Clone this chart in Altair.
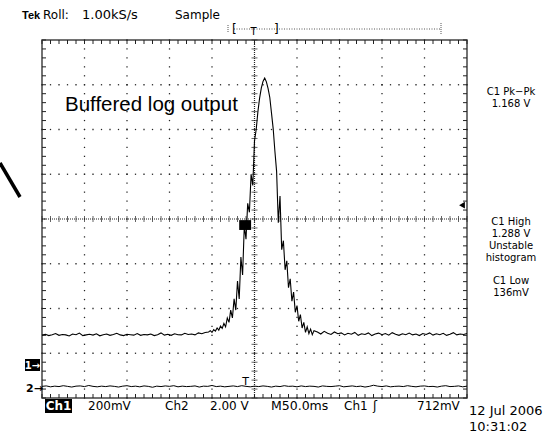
import altair as alt
import pandas as pd
import numpy as np

# Channel 1 (buffered log output): time in ms, level in mV
t1_left = [0, 4, 8, 12, 16, 20, 24, 28, 32, 36, 40, 44, 48, 52, 56, 60, 64, 68, 72, 76,
           80, 84, 88, 92, 96, 100, 104, 108, 112, 116, 120, 124, 128, 132, 136, 140, 144,
           148, 152, 156, 160, 164, 168, 172, 176, 180, 184, 188, 192]
v1_left = [131, 135, 129, 133, 138, 130, 134, 132, 127, 136, 133, 140, 129, 132, 135, 131,
           137, 128, 133, 136, 130, 134, 139, 132, 129, 135, 133, 131, 138, 130, 134, 132,
           136, 129, 133, 141, 131, 135, 130, 137, 133, 132, 139, 134, 136, 132, 141, 137, 143]
t1_mid = [196, 198, 200, 202, 204, 206, 208, 210, 212, 214, 216, 218, 220, 222, 224, 226,
          228, 230, 232, 234, 236, 238, 240, 242, 244, 246, 248, 250, 252, 254, 256, 258,
          260, 262, 264, 266, 268, 270, 272, 274, 276, 278, 280, 282, 284, 286, 288, 290,
          292, 294, 296, 298, 300, 302, 304, 306, 308, 310, 312, 314, 316, 318, 320]
v1_mid = [145, 151, 143, 156, 149, 163, 153, 171, 161, 183, 168, 208, 188, 243, 208, 293,
          243, 373, 293, 480, 400, 620, 560, 720, 680, 850, 800, 1000, 1050, 1130, 1190, 1235,
          1265, 1280, 1263, 1233, 1193, 1123, 1053, 953, 863, 633, 753, 513, 553, 423, 463, 343,
          383, 283, 323, 233, 263, 193, 223, 163, 188, 143, 168, 138, 158, 133, 151]
t1_right = [324, 328, 332, 336, 340, 344, 348, 352, 356, 360, 364, 368, 372, 376, 380, 384,
            388, 392, 396, 400, 404, 408, 412, 416, 420, 424, 428, 432, 436, 440, 444, 448,
            452, 456, 460, 464, 468, 472, 476, 480, 484, 488, 492, 496, 500]
v1_right = [145, 136, 148, 139, 134, 145, 137, 141, 132, 139, 135, 143, 130, 137, 134, 141,
            129, 136, 140, 133, 138, 131, 142, 135, 130, 137, 133, 140, 132, 136, 129, 138,
            134, 141, 131, 137, 133, 139, 130, 135, 142, 132, 136, 134, 138]

# Channel 2: time in ms, level in V (2.00 V/div)
t2 = [0, 5, 10, 15, 20, 25, 30, 35, 40, 45, 50, 55, 60, 65, 70, 75, 80, 85, 90, 95,
      100, 105, 110, 115, 120, 125, 130, 135, 140, 145, 150, 155, 160, 165, 170, 175, 180,
      185, 190, 195, 200, 205, 210, 215, 220, 225, 230, 235, 240, 245, 250, 255, 260, 265,
      270, 275, 280, 285, 290, 295, 300, 305, 310, 315, 320, 325, 330, 335, 340, 345, 350,
      355, 360, 365, 370, 375, 380, 385, 390, 395, 400, 405, 410, 415, 420, 425, 430, 435,
      440, 445, 450, 455, 460, 465, 470, 475, 480, 485, 490, 495, 500]
v2 = [-0.06, -0.04, -0.08, -0.05, -0.07, -0.03, -0.06, -0.09, -0.05, -0.04,
      -0.07, -0.02, -0.06, -0.08, -0.05, -0.07, -0.04, -0.06, -0.09, -0.05,
      -0.03, -0.07, -0.05, -0.08, -0.04, -0.06, -0.10, -0.05, -0.07, -0.04,
      -0.06, -0.03, -0.08, -0.05, -0.07, -0.06, -0.04, -0.09, -0.05, -0.06,
      -0.02, -0.07, -0.05, -0.08, -0.06, -0.04, -0.07, -0.03, -0.06, -0.08,
      -0.05, -0.07, -0.04, -0.06, -0.09, -0.05, -0.07, -0.03, -0.06, -0.05,
      -0.08, -0.04, -0.07, -0.05, -0.06, -0.09, -0.04, -0.06, -0.07, -0.05,
      -0.03, -0.08, -0.06, -0.04, -0.07, -0.05, -0.09, -0.06, -0.01, -0.05,
      -0.07, -0.04, -0.08, -0.06, -0.05, -0.07, -0.03, -0.06, -0.08, -0.05,
      -0.04, -0.07, -0.06, -0.09, -0.05, -0.03, -0.07, -0.06, -0.04, -0.08,
      -0.05]

trigger_level_mv = [712]

# ---------------- screen geometry (scales) ----------------
T_DOMAIN = [0, 500]        # 10 div x 50 ms
MV_DOMAIN = [-150, 1450]   # 8 div x 200 mV
CENTER_T = 250
CENTER_MV = 650
CH2_GROUND_MV = -92        # ch2 ground marker on ch1's scale
W, H = 425, 358
SCOPE = "DejaVu Sans"

xs = alt.Scale(domain=T_DOMAIN, nice=False, zero=False)
ys = alt.Scale(domain=MV_DOMAIN, nice=False, zero=False)

ch1 = pd.DataFrame({"t": t1_left + t1_mid + t1_right,
                    "mv": v1_left + v1_mid + v1_right})
ch2 = pd.DataFrame({"t": t2, "v": v2})

minor_t = np.arange(0, 501, 10)
minor_mv = np.arange(-150, 1451, 40)
major_t = [50, 100, 150, 200, 300, 350, 400, 450]
major_mv = [50, 250, 450, 850, 1050, 1250]

dots = pd.concat([
    pd.DataFrame({"t": np.repeat(major_t, len(minor_mv)),
                  "mv": np.tile(minor_mv, len(major_t))}),
    pd.DataFrame({"t": np.tile(minor_t, len(major_mv)),
                  "mv": np.repeat(major_mv, len(minor_t))}),
], ignore_index=True)
tdf = pd.DataFrame({"t": minor_t, "mv": CENTER_MV})
mdf = pd.DataFrame({"mv": minor_mv, "t": CENTER_T})
cv = pd.DataFrame({"t": [CENTER_T]})
ch = pd.DataFrame({"mv": [CENTER_MV]})
blk = pd.DataFrame({"t": [232], "t2": [246], "mv": [601], "mv2": [645]})
trig = pd.DataFrame({"mv": trigger_level_mv})
one = pd.DataFrame({"a": [0]})

X = lambda f="t": alt.X(f"{f}:Q", scale=xs, axis=None)
Y = lambda f="mv": alt.Y(f"{f}:Q", scale=ys, axis=None)

layers = []

# grid dots
layers.append(alt.Chart(dots).mark_square(size=1.6, color="#222", opacity=1)
              .encode(x=X(), y=Y()))
# centre cross (dense dotted) and its ticks
layers.append(alt.Chart(cv).mark_rule(color="#222", strokeDash=[1, 1], strokeWidth=1.2)
              .encode(x=X()))
layers.append(alt.Chart(ch).mark_rule(color="#222", strokeDash=[1, 1], strokeWidth=1.2)
              .encode(y=Y()))
layers.append(alt.Chart(tdf).mark_tick(orient="vertical", size=6, thickness=1, color="#222")
              .encode(x=X(), y=Y()))
layers.append(alt.Chart(mdf).mark_tick(orient="horizontal", size=6, thickness=1, color="#222")
              .encode(y=Y(), x=X()))
# border ticks (inward)
layers.append(alt.Chart(tdf).mark_rule(color="#222", strokeWidth=1)
              .encode(x=X(), y=alt.value(0), y2=alt.value(4)))
layers.append(alt.Chart(tdf).mark_rule(color="#222", strokeWidth=1)
              .encode(x=X(), y=alt.value(H), y2=alt.value(H - 4)))
layers.append(alt.Chart(mdf).mark_rule(color="#222", strokeWidth=1)
              .encode(y=Y(), x=alt.value(0), x2=alt.value(4)))
layers.append(alt.Chart(mdf).mark_rule(color="#222", strokeWidth=1)
              .encode(y=Y(), x=alt.value(W), x2=alt.value(W - 4)))

# traces
layers.append(alt.Chart(ch2).transform_calculate(mv=f"{CH2_GROUND_MV} + datum.v * 100")
              .mark_line(color="black", strokeWidth=1).encode(x=X(), y=Y()))
layers.append(alt.Chart(ch1).mark_line(color="black", strokeWidth=1.1)
              .encode(x=X(), y=Y()))
# dense block on the rising edge
layers.append(alt.Chart(blk).mark_rect(color="black")
              .encode(x=X(), x2="t2:Q", y=Y(), y2="mv2:Q"))

# trigger level arrow on the right edge
layers.append(alt.Chart(trig).mark_point(shape="triangle-left", filled=True, size=45,
                                         color="black", opacity=1)
              .encode(x=alt.value(W - 5), y=Y()))


def txt(s, x, y, size=12, align="left", weight="normal", color="black", font=SCOPE,
        baseline="alphabetic"):
    return alt.Chart(one).mark_text(text=s, align=align, baseline=baseline, fontSize=size,
                                    fontWeight=weight, color=color, fill=color,
                                    font=font).encode(x=alt.value(x), y=alt.value(y))


def box(x1, x2, y1, y2, color="black"):
    return alt.Chart(one).mark_rect(color=color).encode(
        x=alt.value(x1), x2=alt.value(x2), y=alt.value(y1), y2=alt.value(y2))


def seg(x1, x2, y1, y2, width=1, dash=None, color="black"):
    kw = dict(color=color, strokeWidth=width)
    if dash:
        kw["strokeDash"] = dash
    return alt.Chart(one).mark_rule(**kw).encode(
        x=alt.value(x1), x2=alt.value(x2), y=alt.value(y1), y2=alt.value(y2))


# header
layers += [
    txt("Tek", -20, -21, 11, weight="bold", font="Liberation Sans"),
    txt("Roll:", 1, -21, 12),
    txt("1.00kS/s", 40, -21, 13),
    txt("Sample", 133, -21, 12),
    seg(192, 399, -11, -11, 1, [1, 1.5], "#555"),
    seg(186, 186, -15, -7, 1, [1, 1], "#555"),
    seg(399, 399, -17, -5, 1, [1, 1], "#555"),
    txt("[", 190, -11, 12, baseline="middle"),
    txt("T", 211.5, -5, 10, align="center"),
    txt("]", 232, -11, 12, baseline="middle"),
]

# annotation
layers.append(txt("Buffered log output", 23, 71, 20.5, font="Liberation Sans"))
layers.append(seg(-42, -22, 123, 157, 3.5))

# right measurements
rx = 469
for s, yy in [("C1 Pk\u2212Pk", 55), ("1.168 V", 67),
              ("C1 High", 185), ("1.288 V", 197), ("Unstable", 209), ("histogram", 221),
              ("C1 Low", 244), ("136mV", 256)]:
    layers.append(txt(s, rx, yy, 10, align="center"))

# channel markers
layers += [
    box(-17, -2, 319, 331),
    txt("1\u2192", -9.5, 329, 10, align="center", weight="bold", color="white"),
    txt("2\u2192", -16, 352, 11, weight="bold"),
    txt("T", 203.5, 345, 11, align="center"),
]

# bottom status line
by = 370
layers += [
    box(3, 30, 359, 373),
    txt("Ch1", 16.5, by, 12, align="center", weight="bold", color="white"),
    txt("200mV", 46, by, 12),
    txt("Ch2", 123, by, 12),
    txt("2.00 V", 168, by, 12),
    txt("M50.0ms", 229, by, 12.5),
    txt("Ch1", 302, by, 12),
    txt("\u0283", 331, by, 12),
    txt("712mV", 375, by, 12),
    txt("12 Jul 2006", 427, 375, 13),
    txt("10:31:02", 427, 391, 13),
]

chart = alt.layer(*layers).properties(
    width=W, height=H,
    padding={"left": 42, "top": 40, "right": 89, "bottom": 37},
    autosize=alt.AutoSizeParams(type="none"),
    background="white",
).configure_view(stroke="#444", strokeWidth=1.5)

chart.save("out.html", embed_options={"renderer": "svg", "actions": False})
